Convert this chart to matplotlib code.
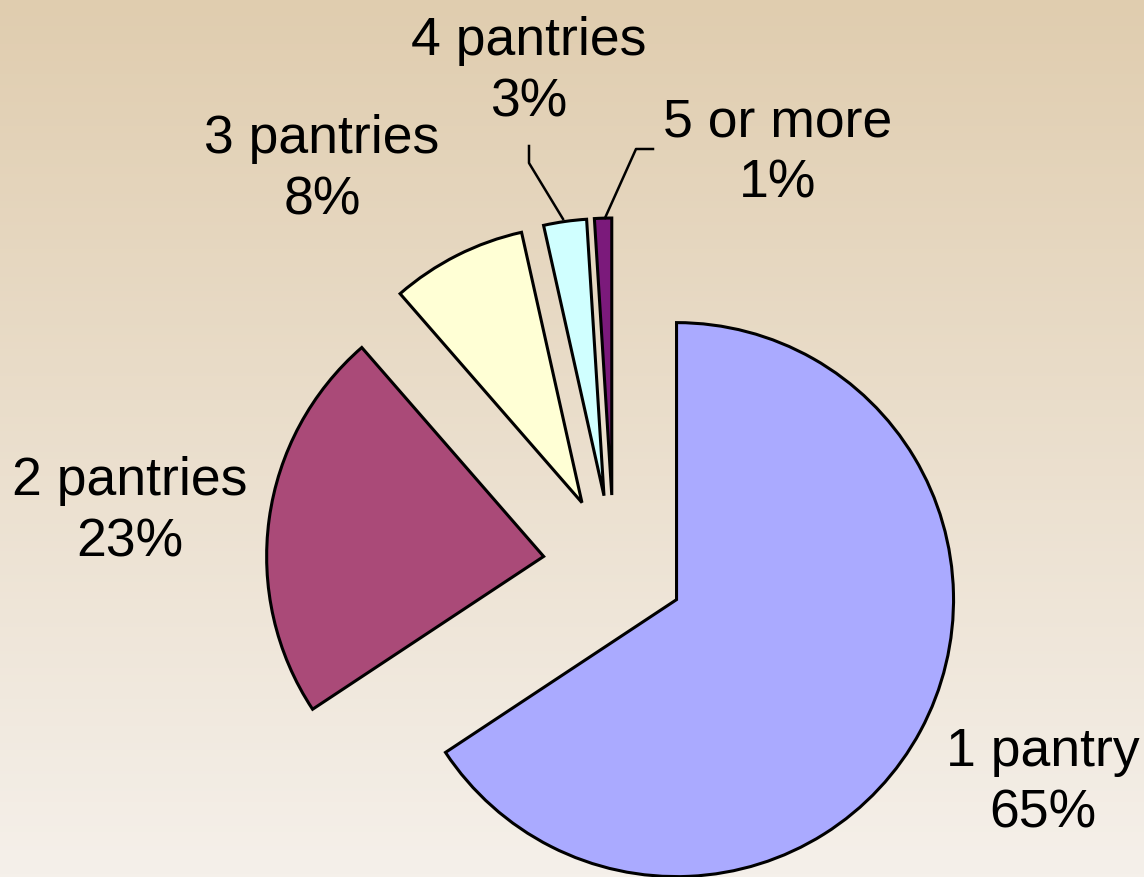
import numpy as np
import matplotlib.pyplot as plt
from matplotlib.colors import LinearSegmentedColormap

labels = ['1 pantry', '2 pantries', '3 pantries', '4 pantries', '5 or more']
# slice shares as measured from the wedge angles
values = [65.7, 22.9, 7.9, 2.5, 1.0]
# percentages as printed on the chart
pct_text = ['65%', '23%', '8%', '3%', '1%']
colors = ['#AAAAFF', '#AA4A78', '#FFFFD5', '#D0FFFF', '#7B1A7B']

plt.rcParams['font.family'] = ['Liberation Sans', 'DejaVu Sans']

W, H = 1144, 878
fig = plt.figure(figsize=(W / 100, H / 100), dpi=100)
ax = fig.add_axes([0, 0, 1, 1])

# background gradient (tan at top, near white at bottom)
cmap = LinearSegmentedColormap.from_list('bg', ['#F5F0EA', '#E0CDAF'])
grad = np.linspace(0, 1, 256).reshape(-1, 1)
ax.imshow(grad, cmap=cmap, aspect='auto', extent=[0, W, 0, H], origin='lower', zorder=0)

# explode is in data units here (radius is in pixels)
wedges, _ = ax.pie(values, colors=colors, startangle=90, counterclock=False,
                   explode=[71] * len(values), radius=277, center=(614, H - 567),
                   wedgeprops=dict(edgecolor='black', linewidth=2.2), frame=True)
for w in wedges:
    w.set_zorder(2)

# data labels
label_pos = [(1043, H - 783), (130, H - 512), (322, H - 170), (529, H - 72), (778, H - 153)]
for lab, pct, (x, y) in zip(labels, pct_text, label_pos):
    ax.text(x, y, f'{lab}\n{pct}', ha='center', va='center', fontsize=38.5,
            linespacing=1.3, zorder=3)

# leader lines
ax.plot([563, 529, 529], [H - 220, H - 164, H - 147], color='black', lw=1.8, zorder=3)
ax.plot([605, 636, 653], [H - 219, H - 150, H - 150], color='black', lw=1.8, zorder=3)

ax.set_xlim(0, W)
ax.set_ylim(0, H)
ax.set_aspect('equal')
ax.axis('off')

fig.savefig('out.png', dpi=100)
